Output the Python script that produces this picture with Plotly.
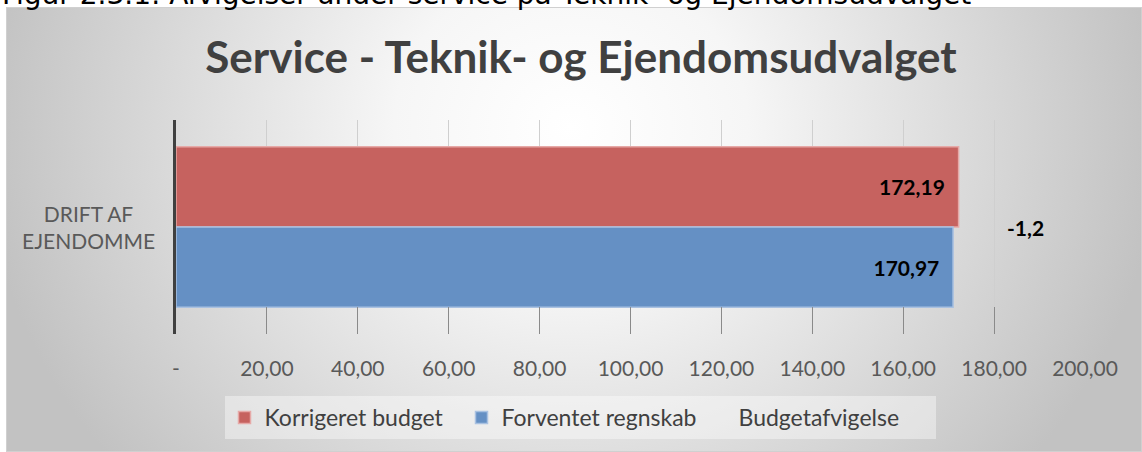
import base64
import plotly.graph_objects as go

# ---- data ----
categories = ["DRIFT AF EJENDOMME"]
korrigeret_budget = [172.19]
forventet_regnskab = [170.97]
budgetafvigelse = [-1.2]
tick_values = [0, 20, 40, 60, 80, 100, 120, 140, 160, 180, 200]
tick_labels = ["-", "20,00", "40,00", "60,00", "80,00", "100,00", "120,00",
               "140,00", "160,00", "180,00", "200,00"]
series_names = ["Korrigeret budget", "Forventet regnskab", "Budgetafvigelse"]
title_text = "Service - Teknik- og Ejendomsudvalget"
caption_text = "Figur 2.3.1: Afvigelser under service på Teknik- og Ejendomsudvalget"

W, H = 1142, 452
ML, MR, MT, MB = 176, 57, 120, 118
PW, PH = W - ML - MR, H - MT - MB
FONT = "Lato, 'Open Sans', 'DejaVu Sans', sans-serif"


def fmt(v, nd=2):
    return f"{v:.{nd}f}".replace(".", ",")


def px_to_paper_x(px):
    return (px - ML) / PW


def px_to_paper_y(py):
    return (H - MB - py) / PH


# background gradient (chart area) as an SVG image
svg = f'''<svg xmlns="http://www.w3.org/2000/svg" width="{W-6}" height="{H-7}" viewBox="0 0 {W-6} {H-7}">
<defs><radialGradient id="g" gradientUnits="userSpaceOnUse" cx="565" cy="120" r="590"
 gradientTransform="translate(565 120) scale(1 0.9) translate(-565 -120)">
<stop offset="0" stop-color="#ffffff"/><stop offset="0.3" stop-color="#f6f6f6"/>
<stop offset="1" stop-color="#c2c2c2"/></radialGradient></defs>
<rect x="0" y="0" width="{W-6}" height="{H-7}" fill="url(#g)"/>
<rect x="0.5" y="0.5" width="{W-7}" height="{H-8}" fill="none" stroke="#d0d0d0" stroke-width="1"/>
</svg>'''
svg_uri = "data:image/svg+xml;base64," + base64.b64encode(svg.encode()).decode()

cat_label = "DRIFT AF<br>EJENDOMME"
pad = "\u00a0\u00a0"

fig = go.Figure()
fig.add_trace(go.Bar(
    y=categories, x=korrigeret_budget, orientation="h", name=series_names[0],
    marker=dict(color="#c6625f", line=dict(color="#e6a9a7", width=1.5)),
    text=[f"<b>{fmt(v)}</b>{pad}" for v in korrigeret_budget],
    textposition="inside", insidetextanchor="end", textangle=0,
    insidetextfont=dict(family=FONT, size=21, color="#000000"),
    hoverinfo="skip",
))
fig.add_trace(go.Bar(
    y=categories, x=forventet_regnskab, orientation="h", name=series_names[1],
    marker=dict(color="#6590c4", line=dict(color="#a9c1e1", width=1.5)),
    text=[f"<b>{fmt(v)}</b>{pad}" for v in forventet_regnskab],
    textposition="inside", insidetextanchor="end", textangle=0,
    insidetextfont=dict(family=FONT, size=21, color="#000000"),
    hoverinfo="skip",
))
fig.add_trace(go.Bar(
    y=categories, x=budgetafvigelse, orientation="h", name=series_names[2],
    marker=dict(color="rgba(0,0,0,0)", line=dict(width=0)),
    yaxis="y2", hoverinfo="skip",
))

DEV_LABEL_X = 187
annotations = [
    dict(x=DEV_LABEL_X, y=categories[0], xref="x", yref="y",
         text=f"<b>{fmt(budgetafvigelse[0], 1)}</b>", showarrow=False,
         font=dict(family=FONT, size=21, color="#000000")),
    dict(x=px_to_paper_x(88), y=categories[0], xref="paper", yref="y",
         xanchor="center", yanchor="middle",
         text=cat_label, showarrow=False, align="center",
         font=dict(family=FONT, size=21, color="#595959")),
    dict(x=px_to_paper_x(0), y=px_to_paper_y(13), xref="paper", yref="paper",
         xanchor="left", yanchor="bottom", text=caption_text, showarrow=False,
         font=dict(family="'DejaVu Sans', sans-serif", size=28, color="#000000")),
]

fig.update_layout(
    width=W, height=H,
    margin=dict(l=ML, r=MR, t=MT, b=MB, autoexpand=False),
    paper_bgcolor="#ffffff", plot_bgcolor="rgba(0,0,0,0)",
    barmode="group", bargap=0.25, bargroupgap=0,
    title=dict(text=f"<b>{title_text}</b>", x=581 / W, xanchor="center",
               y=1 - 58 / H, yanchor="middle", yref="container",
               font=dict(family=FONT, size=44, color="#404040")),
    xaxis=dict(range=[0, 200], tickvals=tick_values, ticktext=tick_labels,
               showgrid=True, gridcolor="#cfcfcf", gridwidth=1,
               ticks="inside", ticklen=27, tickcolor="#8a8a8a", tickwidth=1,
               zeroline=False, showline=False, ticklabelstandoff=20,
               tickfont=dict(family=FONT, size=21, color="#595959")),
    yaxis=dict(range=[0.5, -0.5], showticklabels=False, showgrid=False,
               zeroline=False, showline=True, linecolor="#404040", linewidth=3,
               ticks=""),
    yaxis2=dict(overlaying="y", range=[0.5, -0.5], visible=False),
    legend=dict(orientation="h", x=px_to_paper_x(580), xanchor="center",
                y=px_to_paper_y(396), yanchor="top",
                bgcolor="rgba(255,255,255,0.4)", borderwidth=0,
                entrywidth=192, entrywidthmode="pixels",
                font=dict(family=FONT, size=23, color="#404040"),
                traceorder="normal", itemclick=False),
    annotations=annotations,
    images=[dict(source=svg_uri, xref="paper", yref="paper",
                 x=px_to_paper_x(6), y=px_to_paper_y(7),
                 sizex=(W - 6) / PW, sizey=(H - 7) / PH,
                 xanchor="left", yanchor="top", sizing="stretch",
                 layer="below")],
    showlegend=True,
)

fig.write_html("out.html",
               config={"displayModeBar": False, "staticPlot": True},
               post_script="document.body.style.margin='0';"
                           "document.body.style.overflow='hidden';")
